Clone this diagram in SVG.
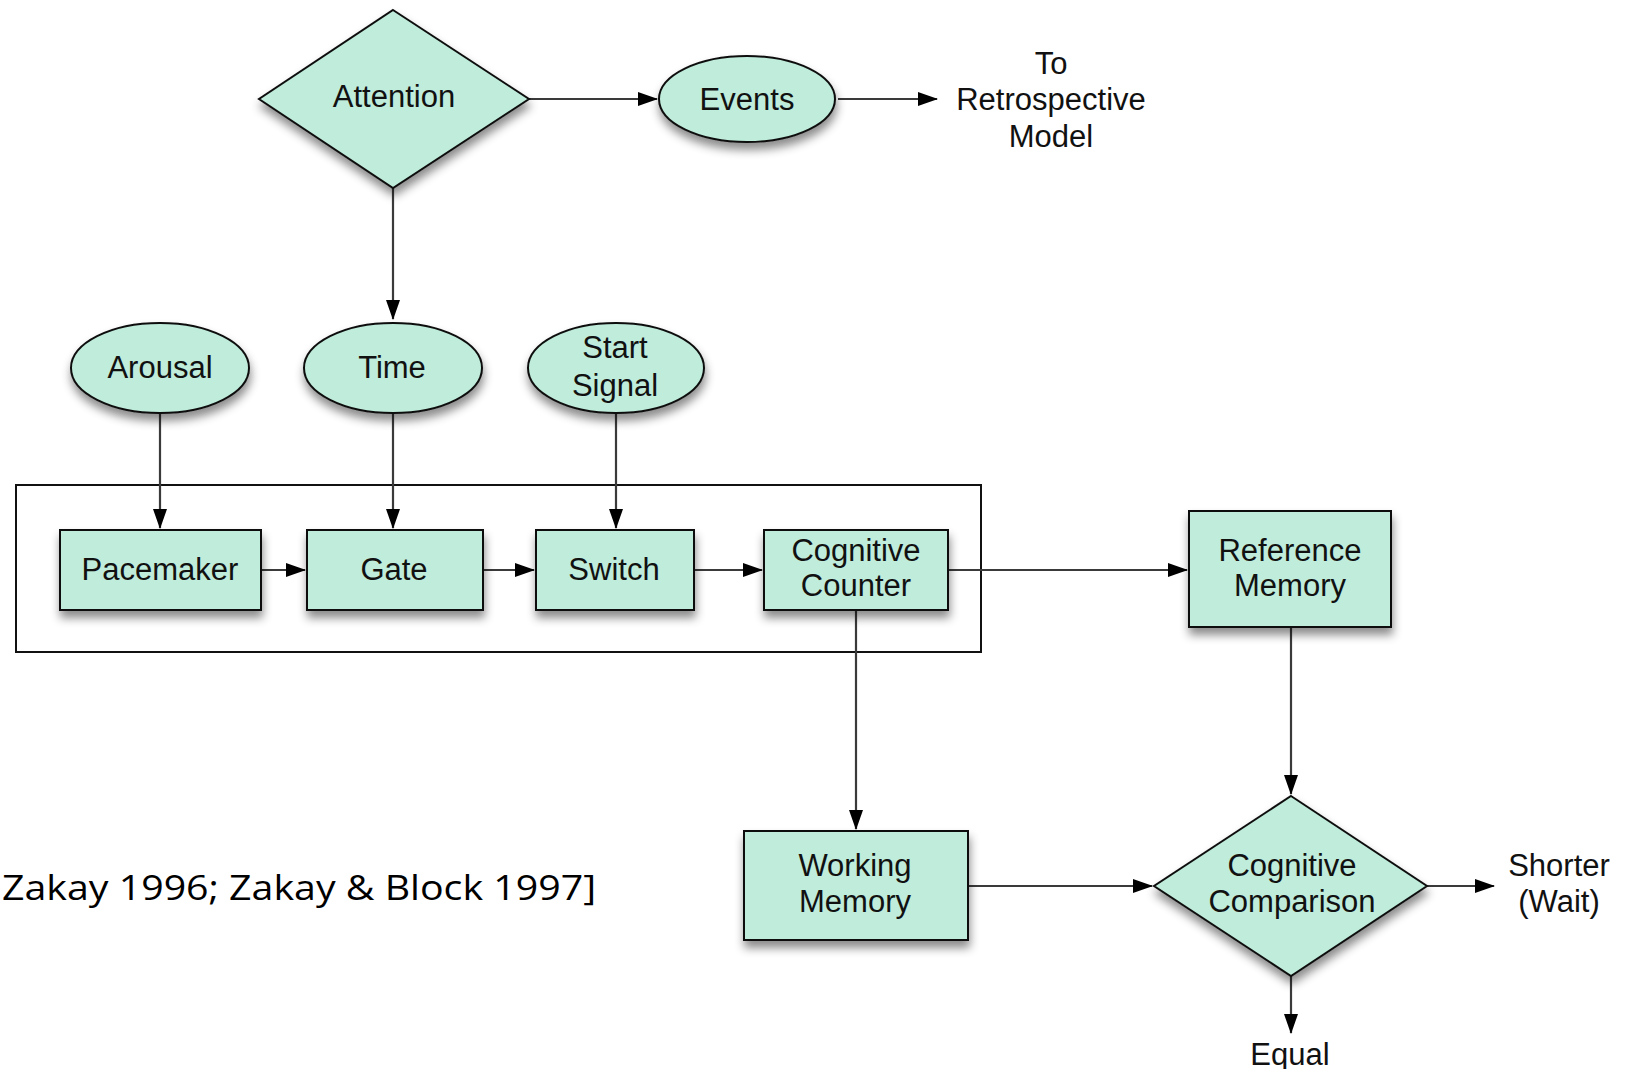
<svg xmlns="http://www.w3.org/2000/svg" width="1636" height="1069" viewBox="0 0 1636 1069">
  <defs>
    <filter id="shadow" x="-20%" y="-20%" width="140%" height="160%">
      <feDropShadow dx="1" dy="7" stdDeviation="5" flood-color="#000" flood-opacity="0.45"/>
    </filter>
    <marker id="arrow" markerUnits="userSpaceOnUse" markerWidth="20" markerHeight="14" refX="19" refY="7" orient="auto">
      <path d="M0,0 L20,7 L0,14 z" fill="#000"/>
    </marker>
    <style>
      .node { fill: #bfecdb; stroke: #111; stroke-width: 2; filter: url(#shadow); }
      .label { font-family: "Liberation Sans", Arial, sans-serif; font-size: 31px; fill: #111; text-anchor: middle; }
      .edge { fill: none; stroke: #3a3a3a; stroke-width: 2.2; marker-end: url(#arrow); }
      .frame { fill: none; stroke: #111; stroke-width: 2; }
      .cite { font-family: "Open Sans", "DejaVu Sans", sans-serif; font-size: 34px; fill: #000; }
    </style>
  </defs>

  <rect width="1636" height="1069" fill="#fff"/>

  <!-- enclosing box around the internal clock -->
  <rect class="frame" x="16" y="485" width="965" height="167"/>

  <!-- connectors -->
  <g id="connectors">
    <line class="edge" x1="529" y1="99" x2="657" y2="99"/>
    <line class="edge" x1="838" y1="99" x2="937" y2="99"/>
    <line class="edge" x1="393" y1="188" x2="393" y2="319"/>
    <line class="edge" x1="160" y1="413" x2="160" y2="528"/>
    <line class="edge" x1="393" y1="413" x2="393" y2="528"/>
    <line class="edge" x1="616" y1="413" x2="616" y2="528"/>
    <line class="edge" x1="261" y1="570" x2="305" y2="570"/>
    <line class="edge" x1="483" y1="570" x2="534" y2="570"/>
    <line class="edge" x1="694" y1="570" x2="762" y2="570"/>
    <line class="edge" x1="948" y1="570" x2="1187" y2="570"/>
    <line class="edge" x1="856" y1="610" x2="856" y2="829"/>
    <line class="edge" x1="1291" y1="627" x2="1291" y2="794"/>
    <line class="edge" x1="968" y1="886" x2="1152" y2="886"/>
    <line class="edge" x1="1427" y1="886" x2="1494" y2="886"/>
    <line class="edge" x1="1291" y1="976" x2="1291" y2="1033"/>
  </g>

  <g id="attention">
    <polygon class="node" points="393,10 529,99 393,188 259,99"/>
    <text class="label" x="394" y="107">Attention</text>
  </g>

  <g id="events">
    <ellipse class="node" cx="747" cy="99" rx="88" ry="43"/>
    <text class="label" x="747" y="110">Events</text>
  </g>

  <g id="retrospective">
    <text class="label" x="1051" y="74">To</text>
    <text class="label" x="1051" y="110">Retrospective</text>
    <text class="label" x="1051" y="147">Model</text>
  </g>

  <g id="arousal">
    <ellipse class="node" cx="160" cy="368" rx="89" ry="45"/>
    <text class="label" x="160" y="378">Arousal</text>
  </g>

  <g id="time">
    <ellipse class="node" cx="393" cy="368" rx="89" ry="45"/>
    <text class="label" x="392" y="378">Time</text>
  </g>

  <g id="start-signal">
    <ellipse class="node" cx="616" cy="368" rx="88" ry="45"/>
    <text class="label" x="615" y="358">Start</text>
    <text class="label" x="615" y="396">Signal</text>
  </g>

  <g id="pacemaker">
    <rect class="node" x="60" y="530" width="201" height="80"/>
    <text class="label" x="160" y="580">Pacemaker</text>
  </g>

  <g id="gate">
    <rect class="node" x="307" y="530" width="176" height="80"/>
    <text class="label" x="394" y="580">Gate</text>
  </g>

  <g id="switch">
    <rect class="node" x="536" y="530" width="158" height="80"/>
    <text class="label" x="614" y="580">Switch</text>
  </g>

  <g id="cognitive-counter">
    <rect class="node" x="764" y="530" width="184" height="80"/>
    <text class="label" x="856" y="561">Cognitive</text>
    <text class="label" x="856" y="596">Counter</text>
  </g>

  <g id="reference-memory">
    <rect class="node" x="1189" y="511" width="202" height="116"/>
    <text class="label" x="1290" y="561">Reference</text>
    <text class="label" x="1290" y="596">Memory</text>
  </g>

  <g id="working-memory">
    <rect class="node" x="744" y="831" width="224" height="109"/>
    <text class="label" x="855" y="876">Working</text>
    <text class="label" x="855" y="912">Memory</text>
  </g>

  <g id="cognitive-comparison">
    <polygon class="node" points="1291,796 1427,886 1291,976 1154,886"/>
    <text class="label" x="1292" y="876">Cognitive</text>
    <text class="label" x="1292" y="912">Comparison</text>
  </g>

  <g id="shorter">
    <text class="label" x="1559" y="876">Shorter</text>
    <text class="label" x="1559" y="912">(Wait)</text>
  </g>

  <g id="equal">
    <text class="label" x="1290" y="1065">Equal</text>
  </g>

  <text class="cite" x="2" y="900" textLength="594" lengthAdjust="spacingAndGlyphs">Zakay 1996; Zakay &amp; Block 1997]</text>
</svg>
